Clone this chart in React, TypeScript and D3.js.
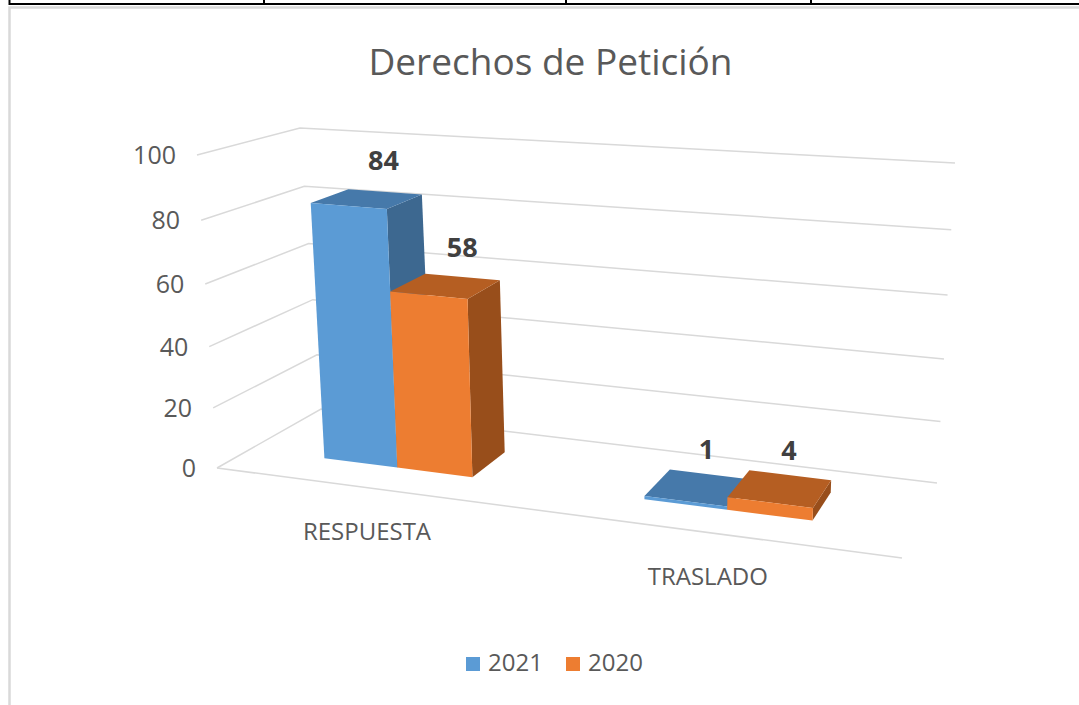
import React from "react";
import * as d3 from "d3";

// ---------- data ----------
const categories = ["RESPUESTA", "TRASLADO"];
const seriesNames = ["2021", "2020"];
const values2021 = [84, 1];
const values2020 = [58, 4];
const yTicks = [0, 20, 40, 60, 80, 100];
const chartTitle = "Derechos de Petición";

// ---------- layout / style ----------
const WIDTH = 1079;
const HEIGHT = 705;
const FONT = "'Open Sans', 'Noto Sans', sans-serif";
const TEXT_COLOR = "#595959";
const LABEL_COLOR = "#404040";
const GRID_COLOR = "#D9D9D9";
const SERIES_STYLE = [
  { front: "#5B9BD5", top: "#4679AA", side: "#3D6890" },
  { front: "#ED7D31", top: "#B55E22", side: "#984E1B" },
];

// projected corners of the 3D plot box  (key: X Y Z, each 0/1)
const FRAME: Record<string, [number, number]> = {
  c000: [217, 468],
  c100: [902, 558],
  c001: [321, 409],
  c101: [937, 483],
  c010: [197, 155],
  c110: [920, 213],
  c011: [300, 128],
  c111: [955, 163],
};
// perspective depth weights along each world axis
const PERSP = { x: -0.124, y: -0.05, z: 0.1175 };
const DEPTH_FRONT = 0.3;
const DEPTH_BACK = 0.69;

function project(X: number, Y: number, Z: number): [number, number] {
  let hx = 0,
    hy = 0,
    hw = 0;
  for (let i = 0; i < 2; i++)
    for (let j = 0; j < 2; j++)
      for (let k = 0; k < 2; k++) {
        const b = (i ? X : 1 - X) * (j ? Y : 1 - Y) * (k ? Z : 1 - Z);
        const w = 1 + PERSP.x * i + PERSP.y * j + PERSP.z * k;
        const [sx, sy] = FRAME[`c${i}${j}${k}`];
        hx += b * w * sx;
        hy += b * w * sy;
        hw += b * w;
      }
  return [hx / hw, hy / hw];
}

const xBand = d3
  .scaleBand<string>()
  .domain(categories)
  .range([-0.006, 0.994])
  .paddingInner(0.522)
  .paddingOuter(0.261);
const xSeries = d3
  .scaleBand<string>()
  .domain(seriesNames)
  .range([0, xBand.bandwidth()]);
const yScale = d3.scaleLinear().domain([0, 100]).range([0, 1]);

const line = d3.line<[number, number]>();
const poly = (pts: [number, number, number][]) =>
  line(pts.map((p) => project(p[0], p[1], p[2]))) + "Z";

export default function App() {
  const seriesValues = [values2021, values2020];

  // gridlines
  const grid = yTicks.map((t) => {
    const v = yScale(t);
    const pts: [number, number][] = [
      project(0, v, 0),
      project(0, v, 1),
      project(1, v, 1),
    ];
    return { t, d: line(pts) as string, anchor: project(0, v, 0) };
  });
  const floorFront = line([project(0, 0, 0), project(1, 0, 0)]) as string;

  // bars
  type Bar = {
    key: string;
    x0: number;
    x1: number;
    v: number;
    value: number;
    s: number;
  };
  const bars: Bar[] = [];
  categories.forEach((c, ci) => {
    seriesNames.forEach((s, si) => {
      const x0 = (xBand(c) as number) + (xSeries(s) as number);
      const x1 = x0 + xSeries.bandwidth();
      const value = seriesValues[si][ci];
      bars.push({ key: c + s, x0, x1, v: yScale(value), value, s: si });
    });
  });
  bars.sort((a, b) => a.x0 - b.x0);

  const z0 = DEPTH_FRONT;
  const z1 = DEPTH_BACK;

  return (
    <svg
      width={WIDTH}
      height={HEIGHT}
      style={{ position: "absolute", left: 0, top: 0, display: "block" }}
    >
      <rect x={0} y={0} width={WIDTH} height={HEIGHT} fill="#ffffff" />
      {/* chart frame */}
      <rect
        x={9.5}
        y={7.5}
        width={WIDTH + 20}
        height={HEIGHT + 20}
        fill="#ffffff"
        stroke={GRID_COLOR}
        strokeWidth={2.5}
      />
      {/* table border above */}
      <line x1={9} x2={WIDTH} y1={4} y2={4} stroke="#000" strokeWidth={2} />
      {[9.5, 264, 566, 811].map((x) => (
        <line key={x} x1={x} x2={x} y1={0} y2={5} stroke="#000" strokeWidth={2} />
      ))}

      {/* title */}
      <text
        x={550.5}
        y={75}
        textAnchor="middle"
        fontFamily={FONT}
        fontSize={37}
        fill={TEXT_COLOR}
      >
        {chartTitle}
      </text>

      {/* gridlines */}
      {grid.map((g) => (
        <path key={g.t} d={g.d} fill="none" stroke={GRID_COLOR} strokeWidth={1.5} />
      ))}
      <path d={floorFront} fill="none" stroke={GRID_COLOR} strokeWidth={1.5} />

      {/* y tick labels */}
      {grid.map((g) => (
        <text
          key={"l" + g.t}
          x={g.anchor[0] - 21}
          y={g.anchor[1] + 9}
          textAnchor="end"
          fontFamily={FONT}
          fontSize={25}
          fill={TEXT_COLOR}
        >
          {g.t}
        </text>
      ))}

      {/* category labels */}
      {categories.map((c) => {
        const xc = (xBand(c) as number) + xBand.bandwidth() / 2;
        const [px, py] = project(xc, 0, 0);
        return (
          <text
            key={c}
            x={px - 1}
            y={py + 52}
            textAnchor="middle"
            fontFamily={FONT}
            fontSize={24}
            fill={TEXT_COLOR}
          >
            {c}
          </text>
        );
      })}

      {/* bars */}
      {bars.map((b) => {
        const st = SERIES_STYLE[b.s];
        return (
          <g key={b.key}>
            <path
              d={poly([
                [b.x1, 0, z0],
                [b.x1, 0, z1],
                [b.x1, b.v, z1],
                [b.x1, b.v, z0],
              ])}
              fill={st.side}
            />
            <path
              d={poly([
                [b.x0, b.v, z0],
                [b.x1, b.v, z0],
                [b.x1, b.v, z1],
                [b.x0, b.v, z1],
              ])}
              fill={st.top}
            />
            <path
              d={poly([
                [b.x0, 0, z0],
                [b.x1, 0, z0],
                [b.x1, b.v, z0],
                [b.x0, b.v, z0],
              ])}
              fill={st.front}
            />
          </g>
        );
      })}

      {/* data labels */}
      {bars.map((b) => {
        const [px, py] = project((b.x0 + b.x1) / 2, b.v, (z0 + z1) / 2);
        return (
          <text
            key={"d" + b.key}
            x={px + 1}
            y={py - 28.5}
            textAnchor="start"
            fontFamily={FONT}
            fontSize={27}
            fontWeight="bold"
            fill={LABEL_COLOR}
          >
            {b.value}
          </text>
        );
      })}

      {/* legend */}
      {seriesNames.map((s, i) => {
        const lx = 466 + i * 100;
        return (
          <g key={"lg" + s}>
            <rect x={lx} y={657} width={14} height={14} fill={SERIES_STYLE[i].front} />
            <text
              x={lx + 22}
              y={671}
              fontFamily={FONT}
              fontSize={24}
              fill={TEXT_COLOR}
            >
              {s}
            </text>
          </g>
        );
      })}
    </svg>
  );
}
